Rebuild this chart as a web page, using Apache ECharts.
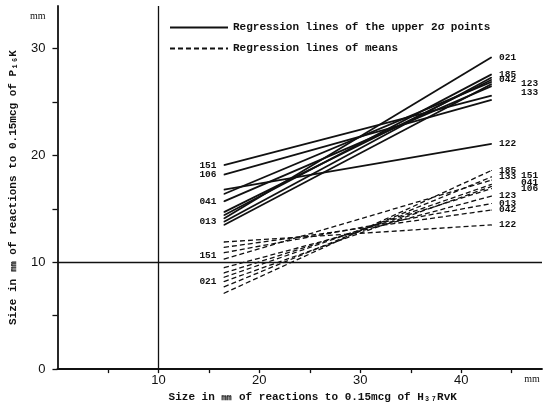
<!DOCTYPE html>
<html><head><meta charset="utf-8">
<script src="https://cdn.jsdelivr.net/npm/echarts@6/dist/echarts.min.js"></script>
<style>html,body{margin:0;padding:0;background:#fff}#c{width:544px;height:408px}</style>
</head><body><div id="c"></div>
<script>
// Strain identifiers
const strains = ['021','185','042','123','133','122','151','106','041','013'];
// x range of each regression line (mm, H37Rv reactions)
const xStart = 16.5, xEnd = 43;
// Regression lines of the upper 2σ points: y at xStart / xEnd
const upperStart = [14.1, 14.4, 14.7, 16.4, 13.5, 16.8, 19.1, 18.2, 15.7, 13.8];
const upperEnd   = [29.2, 27.6, 27.1, 26.9, 26.7, 21.1, 25.6, 25.2, 26.5, 27.3];
// Regression lines of means: y at xStart / xEnd
const meanStart = [8.2, 7.1, 11.4, 9.5, 7.7, 11.9, 10.3, 9.0, 8.6, 10.9];
const meanEnd   = [17.1, 18.6, 14.9, 16.2, 18.0, 13.5, 17.7, 16.9, 17.3, 15.5];
// Tick labels
const xTickLabels = [10, 20, 30, 40];
const yTickLabels = [0, 10, 20, 30];
const xMinorTicks = [5, 10, 15, 20, 25, 30, 35, 40, 45];
const yMinorTicks = [0, 5, 10, 15, 20, 25, 30];
const UPPER = 'Regression lines of the upper 2σ points';
const MEANS = 'Regression lines of means';

// label placement (which end is labelled, offset)
const upperLabelCfg = {
  '021': {end: 1}, '185': {end: 1}, '042': {end: 1},
  '123': {end: 1, offset: [22, 2]}, '133': {end: 1, offset: [22, 9]},
  '122': {end: 1}, '151': {end: 0}, '106': {end: 0}, '041': {end: 0}, '013': {end: 0}
};
const meanLabelCfg = {
  '021': {end: 0}, '185': {end: 1}, '042': {end: 1}, '123': {end: 1},
  '133': {end: 1}, '122': {end: 1}, '151': {end: 1, offset: [22, -4], left: {offset: [0, -3]}},
  '106': {end: 1, offset: [22, 0]}, '041': {end: 1, offset: [22, -2]}, '013': {end: 1}
};
const labelFont = {fontFamily: 'Liberation Mono', fontWeight: 'bold', fontSize: 9.5, color: '#111'};

function makeSeries(name, starts, ends, cfgMap, dashed) {
  return strains.map((id, i) => {
    const cfg = cfgMap[id] || {};
    const pts = [[xStart, starts[i]], [xEnd, ends[i]]].map((v, k) => {
      const item = {value: v};
      let show = (cfg.end === k);
      let offset = cfg.offset || [0, 0];
      if (k === 0 && cfg.left) { show = true; offset = cfg.left.offset; }
      if (show) {
        item.label = Object.assign({
          show: true, position: k === 0 ? 'left' : 'right', distance: 7,
          formatter: id, offset: offset
        }, labelFont);
      }
      return item;
    });
    return {
      type: 'line', name: name, data: pts,
      symbol: 'circle', symbolSize: 1, silent: true,
      itemStyle: {color: '#111'},
      lineStyle: {color: '#111', width: dashed ? 1.3 : 1.8, type: dashed ? [5, 3] : 'solid'},
      label: {show: false},
      emphasis: {disabled: true},
      z: 3
    };
  });
}

const series = [].concat(
  makeSeries(UPPER, upperStart, upperEnd, upperLabelCfg, false),
  makeSeries(MEANS, meanStart, meanEnd, meanLabelCfg, true)
);
series.push({
  type: 'line', data: [], silent: true,
  markLine: {
    silent: true, symbol: 'none', label: {show: false},
    lineStyle: {color: '#111', width: 1.3, type: 'solid'},
    data: [{xAxis: 10}, {yAxis: 10}]
  }
});

const chart = echarts.init(document.getElementById('c'), null, {renderer: 'canvas'});
chart.setOption({
  animation: false,
  backgroundColor: '#fff',
  grid: {left: 52, right: 2, top: 6, bottom: 38},
  legend: {
    orient: 'vertical', left: 164, top: 17, itemWidth: 58, itemHeight: 12, itemGap: 10,
    data: [UPPER, MEANS], selectedMode: false,
    itemStyle: {opacity: 0},
    textStyle: {fontFamily: 'Liberation Mono', fontWeight: 'bold', fontSize: 11, color: '#111'}
  },
  xAxis: {
    type: 'value', min: 0, max: 48,
    name: 'Size in ㎜ of reactions to 0.15mcg of H₃₇RvK', nameLocation: 'middle', nameGap: 20,
    nameTextStyle: {fontFamily: 'Liberation Mono', fontWeight: 'bold', fontSize: 11, color: '#111', padding: [0, 0, 0, 26]},
    axisLine: {lineStyle: {color: '#111', width: 1.8}},
    axisTick: {show: true, customValues: xMinorTicks, length: 4, lineStyle: {color: '#111', width: 1.3}},
    axisLabel: {customValues: xTickLabels.concat([47]), margin: 5,
      fontFamily: 'Liberation Sans', fontSize: 13, color: '#111',
      formatter: v => v === 47 ? '{u|mm}' : String(v),
      rich: {u: {fontFamily: 'Liberation Serif', fontSize: 10, color: '#111'}}},
    splitLine: {show: false}
  },
  yAxis: {
    type: 'value', min: 0, max: 34,
    name: 'Size in ㎜ of reactions to 0.15mcg of P₁₆K', nameLocation: 'middle', nameGap: 38, nameRotate: 90,
    nameTextStyle: {fontFamily: 'Liberation Mono', fontWeight: 'bold', fontSize: 11, color: '#111'},
    axisLine: {lineStyle: {color: '#111', width: 1.8}},
    axisTick: {show: true, customValues: yMinorTicks, length: 5, lineStyle: {color: '#111', width: 1.3}},
    axisLabel: {customValues: yTickLabels.concat([33]), margin: 12,
      fontFamily: 'Liberation Sans', fontSize: 13, color: '#111',
      formatter: v => v === 33 ? '{u|mm}' : String(v),
      rich: {u: {fontFamily: 'Liberation Serif', fontSize: 10, color: '#111'}}},
    splitLine: {show: false}
  },
  series: series
});
</script>
</body></html>
